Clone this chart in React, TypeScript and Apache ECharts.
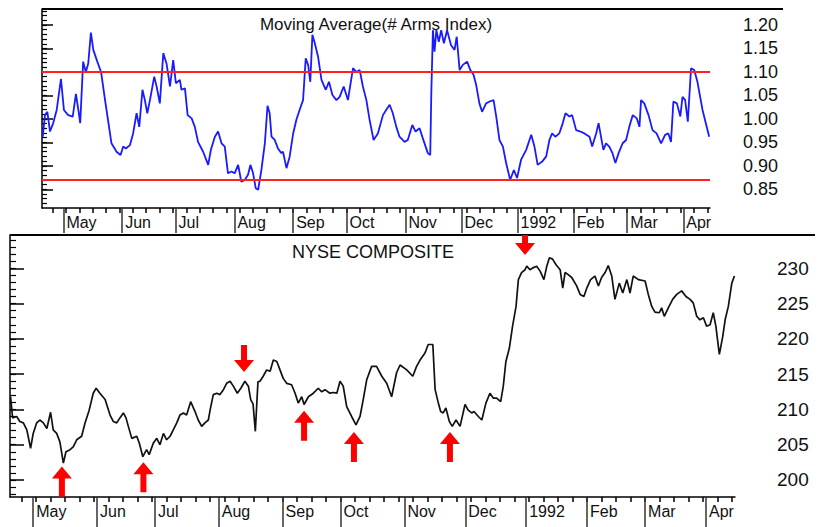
import React, { useEffect, useRef } from "react";
import * as echarts from "echarts";

// ---- Moving Average (# Arms Index), x = trading day index from mid-April 1991 ----
const armsDays = [
  0.3, 1.1, 2.0, 3.0, 4.2, 5.5, 7.1, 8.2, 9.8, 11.5,
  12.7, 13.6, 14.3, 15.4, 16.4, 17.3, 18.3, 19.2, 20.7, 22.1,
  23.6, 26.0, 27.9, 29.4, 30.4, 31.4, 32.9, 34.1, 35.4, 36.4,
  37.6, 38.5, 39.4, 40.4, 42.0, 42.9, 44.1, 45.4, 46.6, 47.9,
  49.1, 50.1, 51.6, 52.2, 53.5, 54.5, 56.0, 57.2, 58.4, 60.3,
  62.2, 63.2, 64.7, 65.9, 67.2, 68.4, 69.6, 70.9, 72.1, 73.4,
  74.6, 75.9, 77.1, 78.0, 79.0, 80.0, 80.9, 82.1, 83.4, 84.4,
  85.2, 85.9, 87.1, 88.3, 89.6, 90.2, 91.5, 92.7, 94.0, 95.2,
  96.4, 97.7, 98.7, 99.6, 100.4, 101.2, 102.1, 103.3, 104.6, 106.2,
  107.4, 108.7, 110.2, 111.4, 112.9, 114.5, 116.4, 117.6, 118.9, 120.1,
  121.4, 122.6, 124.1, 125.7, 127.6, 128.8, 130.1, 131.3, 132.6, 133.8,
  135.7, 136.9, 138.6, 139.8, 141.3, 142.5, 144.4, 145.3, 145.7, 146.3,
  146.9, 147.6, 148.5, 149.4, 150.4, 151.6, 153.1, 154.4, 155.2, 156.3,
  157.5, 159.1, 160.3, 161.5, 162.5, 163.7, 164.7, 166.2, 167.5, 169.0,
  170.0, 171.2, 172.5, 173.7, 175.2, 176.6, 177.8, 179.3, 181.2, 183.1,
  184.3, 185.5, 187.2, 188.7, 189.9, 190.9, 192.1, 193.6, 194.9, 195.9,
  197.4, 198.4, 199.9, 201.5, 203.0, 204.9, 205.9, 207.4, 208.3, 209.2,
  210.1, 211.1, 212.3, 213.5, 214.6, 215.8, 217.3, 218.6, 219.8, 221.1,
  222.6, 223.6, 224.2, 225.4, 227.0, 228.5, 230.0, 231.7, 233.2, 234.4,
  235.4, 236.3, 237.6, 238.9, 239.7, 240.7, 241.7, 242.9, 244.1, 245.3,
  247.2, 249.7,
];
const armsValues = [
  0.962, 1.008, 1.015, 0.973, 0.991, 1.019, 1.085, 1.019, 1.008, 1.005,
  1.053, 1.019, 0.991, 1.122, 1.100, 1.118, 1.184, 1.147, 1.122, 1.100,
  1.040, 0.948, 0.930, 0.923, 0.941, 0.937, 0.944, 0.969, 1.012, 0.983,
  1.062, 1.040, 1.012, 1.040, 1.090, 1.069, 1.033, 1.140, 1.118, 1.069,
  1.125, 1.076, 1.083, 1.062, 1.065, 1.008, 1.001, 0.983, 0.951, 0.930,
  0.902, 0.934, 0.962, 0.973, 0.948, 0.941, 0.884, 0.888, 0.884, 0.902,
  0.866, 0.870, 0.881, 0.902, 0.884, 0.852, 0.849, 0.891, 0.948, 1.028,
  1.012, 0.962, 0.955, 0.937, 0.927, 0.930, 0.895, 0.920, 0.969, 0.998,
  1.019, 1.040, 1.129, 1.115, 1.079, 1.179, 1.161, 1.133, 1.083, 1.062,
  1.079, 1.051, 1.040, 1.047, 1.069, 1.040, 1.108, 1.100, 1.104, 1.069,
  1.040, 0.998, 0.955, 0.969, 1.008, 1.019, 1.030, 1.012, 0.983, 0.962,
  0.951, 0.955, 0.987, 0.973, 0.980, 0.959, 0.927, 0.923, 1.055, 1.189,
  1.143, 1.189, 1.164, 1.189, 1.161, 1.189, 1.157, 1.147, 1.175, 1.104,
  1.115, 1.122, 1.104, 1.094, 1.072, 1.033, 1.015, 1.033, 1.037, 1.040,
  1.005, 0.955, 0.941, 0.906, 0.870, 0.891, 0.874, 0.913, 0.934, 0.966,
  0.941, 0.902, 0.909, 0.920, 0.955, 0.969, 0.962, 0.969, 0.991, 1.012,
  1.005, 1.008, 0.976, 0.973, 0.969, 0.962, 0.941, 0.969, 0.991, 0.962,
  0.934, 0.948, 0.941, 0.927, 0.906, 0.927, 0.948, 0.955, 0.983, 1.008,
  1.001, 0.983, 1.040, 1.033, 1.008, 0.976, 0.969, 0.948, 0.966, 0.969,
  0.951, 1.037, 1.033, 1.005, 1.047, 1.040, 0.994, 1.108, 1.104, 1.079,
  1.019, 0.962,
];
const armsBands = [1.10, 0.87];
const armsTickValues = [0.85, 0.9, 0.95, 1.0, 1.05, 1.1, 1.15, 1.2];

// ---- NYSE Composite ----
const nyseDays = [
  0.2, 0.9, 2.3, 3.4, 4.6, 5.8, 7.1, 8.0, 9.2, 10.3,
  11.5, 12.7, 14.0, 14.9, 16.1, 17.2, 18.4, 19.3, 20.7, 21.8,
  23.0, 24.7, 25.9, 27.3, 28.7, 29.7, 31.0, 32.8, 34.5, 35.6,
  36.8, 37.9, 39.1, 40.0, 40.8, 42.0, 43.7, 44.6, 45.8, 47.1,
  48.0, 49.4, 50.6, 51.7, 52.9, 54.0, 55.2, 56.3, 57.5, 58.6,
  59.8, 60.9, 62.3, 63.8, 64.9, 66.1, 67.2, 68.4, 69.0, 70.1,
  71.3, 72.4, 73.6, 74.7, 75.9, 77.0, 78.4, 79.6, 81.0, 82.2,
  83.0, 83.8, 84.6, 85.5, 86.2, 87.3, 88.5, 89.7, 90.8, 92.0,
  93.1, 94.2, 95.4, 97.1, 98.3, 99.4, 100.6, 101.4, 102.9, 104.6,
  106.3, 107.5, 108.6, 110.3, 111.5, 112.7, 113.8, 114.9, 116.1, 117.8,
  119.3, 120.7, 121.8, 123.0, 124.7, 126.4, 128.2, 129.9, 131.6, 133.3,
  134.5, 136.8, 138.9, 140.2, 141.4, 143.1, 144.2, 145.8, 146.6, 147.7,
  148.5, 149.4, 150.3, 151.5, 152.5, 153.8, 155.2, 156.9, 158.0, 159.2,
  160.0, 161.5, 162.7, 164.1, 165.5, 166.7, 167.8, 169.2, 170.1, 171.0,
  172.2, 173.3, 174.5, 175.3, 176.4, 177.6, 178.2, 179.3, 180.5, 181.6,
  182.8, 184.1, 185.1, 186.0, 187.1, 188.3, 189.7, 190.6, 191.4, 192.5,
  193.7, 195.4, 196.6, 197.9, 198.9, 200.2, 201.7, 202.9, 204.0, 205.2,
  206.3, 207.5, 208.6, 210.1, 211.3, 212.7, 213.8, 214.9, 216.7, 219.0,
  220.1, 221.3, 222.4, 223.9, 224.7, 225.6, 227.0, 228.5, 229.9, 231.6,
  233.1, 234.5, 235.6, 236.8, 237.9, 239.1, 240.2, 241.4, 242.5, 243.4,
  244.6, 245.8, 246.6, 247.7, 248.9, 249.8,
];
const nyseValues = [
  211.8, 208.8, 209.0, 208.3, 208.1, 207.1, 204.5, 206.6, 208.1, 208.5,
  208.1, 207.3, 209.6, 207.1, 206.6, 205.4, 202.4, 204.0, 204.3, 204.7,
  205.7, 206.2, 208.1, 209.9, 212.3, 213.0, 212.3, 211.4, 209.2, 208.3,
  208.1, 208.8, 209.5, 208.8, 207.6, 205.9, 206.2, 205.2, 203.3, 204.3,
  203.6, 205.2, 205.9, 205.0, 206.6, 205.7, 206.2, 207.1, 208.1, 209.2,
  209.5, 209.2, 211.1, 209.7, 208.5, 207.6, 208.1, 208.5, 209.9, 212.1,
  212.3, 212.1, 212.8, 213.7, 214.0, 213.3, 212.3, 213.0, 214.0, 213.3,
  211.4, 210.8, 206.9, 213.9, 214.0, 214.7, 215.6, 215.4, 217.0, 216.8,
  215.6, 214.4, 213.7, 213.5, 212.3, 210.9, 211.8, 210.7, 211.8, 212.3,
  213.0, 212.5, 212.8, 212.3, 212.4, 212.3, 214.0, 213.3, 210.4, 209.0,
  207.8, 209.0, 211.4, 214.2, 216.1, 216.1, 214.7, 213.7, 211.8, 215.2,
  216.3, 215.6, 214.7, 216.1, 217.0, 218.0, 219.2, 219.2, 212.8, 210.9,
  209.7, 209.5, 210.2, 208.3, 207.6, 208.5, 207.6, 210.7, 209.9, 209.5,
  209.7, 209.0, 208.5, 210.9, 212.3, 211.6, 211.6, 211.1, 213.3, 216.8,
  218.7, 221.8, 224.6, 228.4, 229.4, 229.8, 230.3, 229.8, 230.1, 230.3,
  229.6, 228.4, 230.3, 231.5, 231.3, 230.5, 229.8, 227.2, 229.4, 229.1,
  228.7, 227.5, 226.3, 226.0, 227.2, 228.4, 228.9, 227.5, 228.7, 229.4,
  230.4, 228.9, 225.6, 227.9, 226.5, 228.4, 226.5, 228.9, 228.4, 228.2,
  226.3, 224.6, 223.8, 223.7, 224.4, 223.2, 224.4, 225.6, 226.3, 226.8,
  226.0, 225.6, 225.1, 223.2, 222.7, 223.0, 221.8, 222.0, 223.7, 221.8,
  217.8, 220.4, 222.7, 224.6, 227.9, 228.9,
];
const nyseTickValues = [200, 205, 210, 215, 220, 225, 230];

// ---- signal arrows (tip position in data units) ----
const arrowDays = [17.9, 46.0, 101.4, 118.6, 151.7, 80.7, 177.6];
const arrowTips = [201.9, 202.5, 209.8, 206.8, 206.8, 215.3, 231.9];
const arrowDirs = ["up", "up", "up", "up", "up", "down", "down"];

// ---- x axis: month starts (trading-day index) ----
const monthStarts = [8, 30, 50, 72, 94, 114, 136, 157, 178, 199, 219, 240];
const monthNames = ["May", "Jun", "Jul", "Aug", "Sep", "Oct", "Nov", "Dec", "1992", "Feb", "Mar", "Apr"];

const FONT = '"Liberation Sans", Arial, sans-serif';

function range(from: number, to: number, step: number, decimals: number) {
  const out: number[] = [];
  for (let v = from; v <= to + step / 2; v += step) out.push(Number(v.toFixed(decimals)));
  return out;
}

const UP_PATH = "path://M10,0L20,12L13,12L13,30L7,30L7,12L0,12Z";
const DOWN_PATH = "path://M7,0L13,0L13,15L20,15L10,27L0,15L7,15Z";
const DOWN_SHORT_PATH = "path://M7,0L13,0L13,8L20,8L10,20L0,8L7,8Z";

export default function App() {
  const ref = useRef<HTMLDivElement>(null);

  useEffect(() => {
    if (!ref.current) return;
    const chart = echarts.init(ref.current, undefined, { renderer: "svg" });

    const weekTicks = range(4, 249, 5, 0);
    const armsMinor = range(0.82, 1.23, 0.01, 2);
    const nyseMinor = range(198, 234, 1, 0);

    const armsData = armsDays.map((d, i) => [d, armsValues[i]]);
    const nyseData = nyseDays.map((d, i) => [d, nyseValues[i]]);

    const arrowPoints = arrowDays.map((d, i) => {
      const up = arrowDirs[i] === "up";
      const short = !up && arrowTips[i] > 230;
      const h = up ? 30 : short ? 20 : 27;
      return {
        coord: [d, arrowTips[i]],
        symbol: up ? UP_PATH : short ? DOWN_SHORT_PATH : DOWN_PATH,
        symbolSize: [20, h],
        symbolOffset: [0, up ? h / 2 : -h / 2],
        itemStyle: { color: "#ff0000" },
      };
    });

    const axisColor = "#000";
    const labelColor = "#111";

    const weekAxis = (grid: number, len: number) => ({
      gridIndex: grid,
      type: "value",
      min: 0,
      max: 250,
      position: "bottom",
      axisLine: { show: true, onZero: false, lineStyle: { color: axisColor, width: 1.5 } },
      axisTick: { show: true, customValues: weekTicks, length: len, lineStyle: { color: axisColor, width: 1.5 } },
      axisLabel: { show: false },
      splitLine: { show: false },
    });
    const monthAxis = (grid: number, len: number) => ({
      gridIndex: grid,
      type: "value",
      min: 0,
      max: 250,
      position: "bottom",
      axisLine: { show: false, onZero: false },
      axisTick: { show: true, customValues: monthStarts, length: len, lineStyle: { color: "#333", width: 1.5 } },
      axisLabel: {
        show: true,
        customValues: monthStarts,
        formatter: (v: number) => monthNames[monthStarts.indexOf(Math.round(v))] ?? "",
        align: "left",
        padding: [2, 0, 0, 3],
        margin: 4,
        fontSize: 16,
        fontFamily: FONT,
        color: labelColor,
      },
      splitLine: { show: false },
    });

    chart.setOption({
      animation: false,
      backgroundColor: "#ffffff",
      grid: [
        { left: 42, top: 9, width: 668, height: 199 },
        { left: 10, top: 235, width: 725, height: 262 },
      ],
      xAxis: [weekAxis(0, 5), monthAxis(0, 25), weekAxis(1, 5), monthAxis(1, 30)],
      yAxis: [
        {
          gridIndex: 0,
          type: "value",
          position: "right",
          min: 0.8101,
          max: 1.2341,
          axisLine: { show: true, lineStyle: { color: axisColor, width: 1.5 } },
          axisTick: { show: true, customValues: armsTickValues, length: 11, lineStyle: { color: axisColor, width: 1.5 } },
          axisLabel: {
            show: true,
            customValues: armsTickValues,
            formatter: (v: number) => v.toFixed(2),
            margin: 33,
            fontSize: 18,
            fontFamily: FONT,
            color: labelColor,
            padding: [5, 0, 0, 0],
          },
          splitLine: { show: false },
        },
        {
          gridIndex: 0,
          type: "value",
          position: "right",
          min: 0.8101,
          max: 1.2341,
          axisLine: { show: false },
          axisTick: { show: true, customValues: armsMinor, length: 5, lineStyle: { color: axisColor, width: 1.2 } },
          axisLabel: { show: false },
          splitLine: { show: false },
        },
        {
          gridIndex: 1,
          type: "value",
          position: "right",
          min: 197.59,
          max: 234.72,
          axisLine: { show: true, lineStyle: { color: axisColor, width: 1.5 } },
          axisTick: { show: true, customValues: nyseTickValues, length: 14, lineStyle: { color: axisColor, width: 1.5 } },
          axisLabel: {
            show: true,
            customValues: nyseTickValues,
            formatter: (v: number) => String(Math.round(v)),
            margin: 42,
            fontSize: 19,
            fontFamily: FONT,
            color: labelColor,
            padding: [9, 0, 0, 0],
          },
          splitLine: { show: false },
        },
        {
          gridIndex: 1,
          type: "value",
          position: "right",
          min: 197.59,
          max: 234.72,
          axisLine: { show: false },
          axisTick: { show: true, customValues: nyseMinor, length: 6, lineStyle: { color: axisColor, width: 1.2 } },
          axisLabel: { show: false },
          splitLine: { show: false },
        },
      ],
      graphic: [
        { type: "line", shape: { x1: 42, y1: 9, x2: 783, y2: 9 }, style: { stroke: "#000", lineWidth: 2 }, silent: true },
        { type: "line", shape: { x1: 10, y1: 235, x2: 815, y2: 235 }, style: { stroke: "#000", lineWidth: 2 }, silent: true },
        {
          type: "text",
          x: 376,
          y: 24,
          style: { text: "Moving Average(# Arms Index)", font: `17px ${FONT}`, textAlign: "center", textVerticalAlign: "middle", fill: "#111" },
          silent: true,
        },
        {
          type: "text",
          x: 373,
          y: 252,
          style: { text: "NYSE COMPOSITE", font: `18px ${FONT}`, textAlign: "center", textVerticalAlign: "middle", fill: "#111" },
          silent: true,
        },
      ],
      series: [
        {
          name: "Moving Average(# Arms Index)",
          type: "line",
          xAxisIndex: 0,
          yAxisIndex: 0,
          data: armsData,
          showSymbol: false,
          symbol: "none",
          lineStyle: { color: "#1a1aff", width: 1.8 },
          markLine: {
            silent: true,
            symbol: ["none", "none"],
            label: { show: false },
            lineStyle: { color: "#ff2020", width: 2.2, type: "solid" },
            data: armsBands.map((v) => ({ yAxis: v })),
          },
          z: 3,
        },
        {
          name: "NYSE COMPOSITE",
          type: "line",
          xAxisIndex: 2,
          yAxisIndex: 2,
          data: nyseData,
          showSymbol: false,
          symbol: "none",
          lineStyle: { color: "#111111", width: 1.7 },
          markPoint: {
            silent: true,
            label: { show: false },
            data: arrowPoints,
          },
          z: 3,
        },
      ],
    });

    return () => chart.dispose();
  }, []);

  return (
    <div
      ref={ref}
      style={{ position: "fixed", left: 0, top: 0, width: 826, height: 527, background: "#fff" }}
    />
  );
}
